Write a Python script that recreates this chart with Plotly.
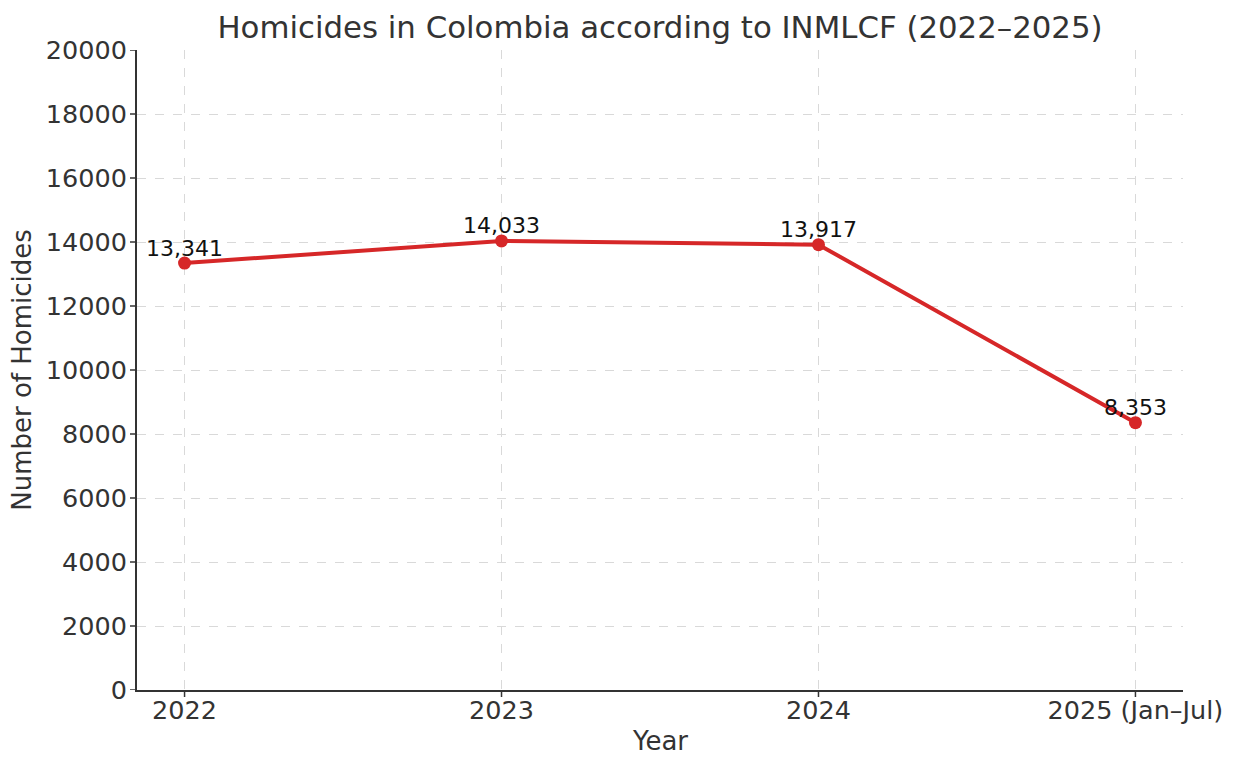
import plotly.graph_objects as go

years = ["2022", "2023", "2024", "2025 (Jan–Jul)"]
homicides = [13341, 14033, 13917, 8353]
y_ticks = [0, 2000, 4000, 6000, 8000, 10000, 12000, 14000, 16000, 18000, 20000]

FONT = "DejaVu Sans"
TXT = "#333333"
TICK_LEN = 7

fig = go.Figure()
fig.add_trace(go.Scatter(
    x=list(range(len(years))), y=homicides, mode="lines+markers",
    line=dict(color="#d62728", width=4),
    marker=dict(color="#d62728", size=13),
    showlegend=False, hoverinfo="skip",
))

for i, v in enumerate(homicides):
    fig.add_annotation(x=i, y=v, text=f"{v:,}", showarrow=False,
                       yanchor="middle", yshift=15,
                       font=dict(family=FONT, size=22, color="#111111"))

# x-axis title as a paper-anchored annotation (margins are fixed)
fig.add_annotation(x=0.5, y=0, xref="paper", yref="paper", text="Year",
                   showarrow=False, xanchor="center", yanchor="middle", yshift=-51,
                   borderpad=0,
                   font=dict(family=FONT, size=26, color=TXT))

# outside tick marks drawn as pixel-sized shapes anchored at tick values
for i in range(len(years)):
    fig.add_shape(type="line", xref="x", yref="paper", ysizemode="pixel", yanchor=0,
                  x0=i, x1=i, y0=0, y1=-TICK_LEN,
                  line=dict(color="#333333", width=1.5), layer="above")
for t in y_ticks:
    fig.add_shape(type="line", xref="paper", yref="y", xsizemode="pixel", xanchor=0,
                  x0=-TICK_LEN, x1=0, y0=t, y1=t,
                  line=dict(color="#333333", width=1.5), layer="above")

fig.update_layout(
    width=1235, height=757,
    margin=dict(l=137, r=52, t=50, b=67),
    paper_bgcolor="white", plot_bgcolor="white",
    font=dict(family=FONT, color=TXT),
    title=dict(text="Homicides in Colombia according to INMLCF (2022–2025)",
               x=0.5, xanchor="center", xref="paper", y=1 - 27/757, yanchor="middle",
               font=dict(family=FONT, size=30.8, color=TXT)),
    xaxis=dict(
        range=[-0.15, 3.15], tickmode="array",
        tickvals=list(range(len(years))), ticktext=years,
        showline=True, linecolor="#333333", linewidth=2,
        ticks="", ticklabelstandoff=-4,
        showgrid=True, gridcolor="#d9d9d9", griddash="dash", gridwidth=1,
        zeroline=False, automargin=False,
        tickfont=dict(family=FONT, size=25.5, color=TXT),
    ),
    yaxis=dict(
        range=[0, 20000], tickmode="array", tickvals=y_ticks,
        ticktext=[str(t) for t in y_ticks],
        showline=True, linecolor="#333333", linewidth=2,
        ticks="", ticklabelstandoff=3,
        showgrid=True, gridcolor="#d9d9d9", griddash="dash", gridwidth=1,
        zeroline=False, automargin=False,
        tickfont=dict(family=FONT, size=25.5, color=TXT),
        title=dict(text="Number of Homicides", font=dict(family=FONT, size=26, color=TXT), standoff=7),
    ),
)

fig.write_html("out.html")
